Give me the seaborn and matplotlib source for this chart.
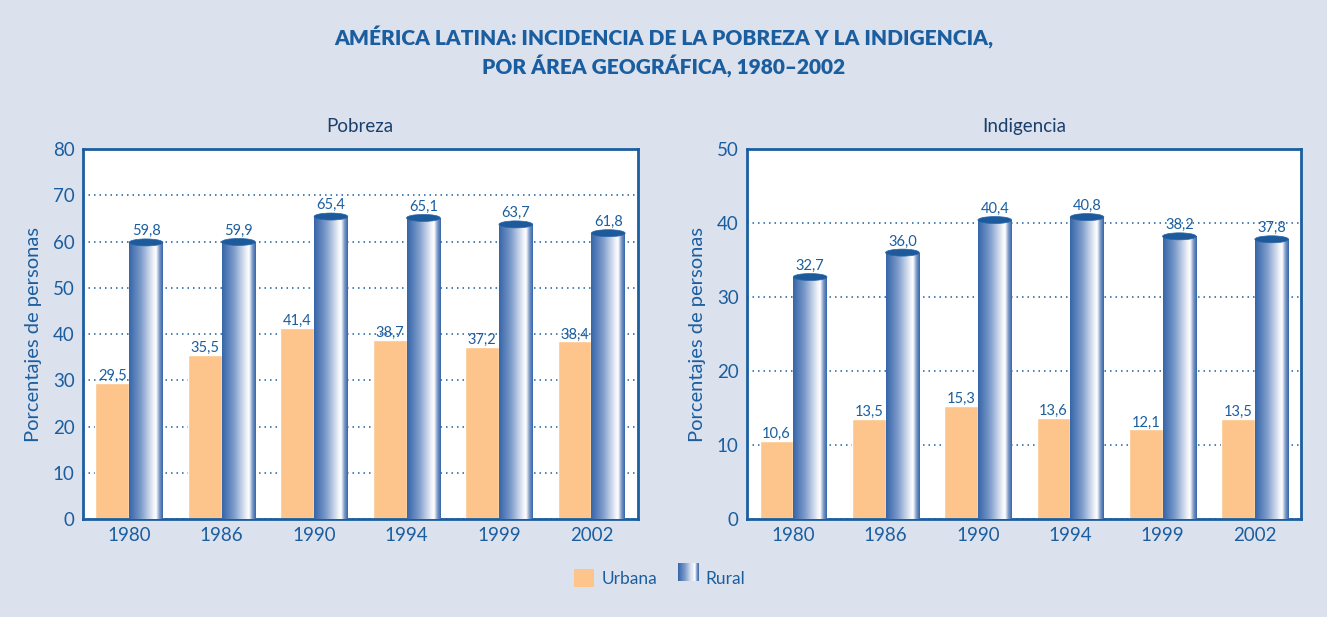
import numpy as np
import pandas as pd
import seaborn as sns
import matplotlib.pyplot as plt
from matplotlib.colors import LinearSegmentedColormap
from matplotlib.patches import Ellipse, Rectangle
from matplotlib.legend_handler import HandlerBase

years = ['1980', '1986', '1990', '1994', '1999', '2002']
pobreza_urbana = [29.5, 35.5, 41.4, 38.7, 37.2, 38.4]
pobreza_rural = [59.8, 59.9, 65.4, 65.1, 63.7, 61.8]
indigencia_urbana = [10.6, 13.5, 15.3, 13.6, 12.1, 13.5]
indigencia_rural = [32.7, 36.0, 40.4, 40.8, 38.2, 37.8]

BG = '#dce1ee'
BLUE = '#1b5e9f'
ORANGE = '#fdc58b'
cyl = LinearSegmentedColormap.from_list(
    'cyl', [(0, '#3565a8'), (0.35, '#7c9bca'), (0.72, '#eef1f8'), (0.8, '#ffffff'),
            (0.9, '#7d99c8'), (1, '#3565a8')])

sns.set_style('white')
plt.rcParams['font.family'] = ['Lato', 'DejaVu Sans']


def make_df(urb, rur):
    return pd.DataFrame({
        'year': years * 2,
        'value': urb + rur,
        'area': ['Urbana'] * len(years) + ['Rural'] * len(years),
    })


def draw_panel(ax, urb, rur, ymax, title):
    df = make_df(urb, rur)
    sns.barplot(data=df, x='year', y='value', hue='area', ax=ax, width=0.73,
                palette={'Urbana': ORANGE, 'Rural': '#3a6aad'}, saturation=1,
                legend=False, zorder=2)
    ax.set_axisbelow(True)
    ax.set_xlim(-0.5, len(years) - 0.5)
    ax.set_ylim(0, ymax)
    ax.set_yticks(np.arange(0, ymax + 1, 10))
    ax.yaxis.grid(True, color=BLUE, linestyle=(0, (1, 2.6)), linewidth=1.1)
    ax.xaxis.grid(False)
    for s in ax.spines.values():
        s.set_color(BLUE)
        s.set_linewidth(2)
        s.set_visible(True)
    ax.tick_params(axis='both', length=0, labelsize=13.5, labelcolor=BLUE, pad=6)
    ax.set_xticks(np.arange(0.5, len(years) - 1, 1), minor=True)
    ax.tick_params(axis='x', which='minor', direction='in', length=5, color=BLUE, width=1.2)
    ax.set_xlabel('')
    ax.set_ylabel('Porcentajes de personas', fontsize=14.5, color=BLUE, labelpad=8)
    ax.set_title(title, fontsize=13.5, color='#1a3f6a', pad=12)

    # pixel -> data scale for ellipse caps
    fig = ax.figure
    fig.canvas.draw()
    bbox = ax.get_window_extent()
    per_px = ymax / bbox.height

    urb_c, rur_c = ax.containers[0], ax.containers[1]
    for p in rur_c.patches:
        x0, w, h = p.get_x(), p.get_width(), p.get_height()
        p.set_facecolor('none')
        p.set_edgecolor('none')
        grad = np.linspace(0, 1, 200).reshape(1, -1)
        im = ax.imshow(grad, cmap=cyl, aspect='auto', extent=[x0, x0 + w, 0, h],
                       zorder=3, interpolation='bilinear')
        clip = Rectangle((x0, 0), w, h, transform=ax.transData)
        im.set_clip_path(clip)
        ax.add_patch(Ellipse((x0 + w / 2, h), w, 7 * per_px, facecolor='#1d5a9b',
                             edgecolor='#2a66a8', linewidth=0.5, zorder=4))
    ax.set_xlim(-0.5, len(years) - 0.5)
    ax.set_ylim(0, ymax)

    ax.bar_label(urb_c, labels=[f'{v:.1f}'.replace('.', ',') for v in urb],
                 padding=0, fontsize=10.5, color=BLUE, zorder=5)
    ax.bar_label(rur_c, labels=[f'{v:.1f}'.replace('.', ',') for v in rur],
                 padding=3, fontsize=10.5, color=BLUE, zorder=5)


class GradHandler(HandlerBase):
    def create_artists(self, legend, orig, xd, yd, width, height, fontsize, trans):
        n = 20
        arts = []
        for i in range(n):
            r = Rectangle((xd + width * i / n, yd), width / n + 0.3, height,
                          facecolor=cyl((i + 0.5) / n), edgecolor='none', transform=trans)
            arts.append(r)
        return arts


fig = plt.figure(figsize=(13.27, 6.17), dpi=100, facecolor=BG)
ax1 = fig.add_axes([0.0625, 0.1588, 0.418, 0.5997])
ax2 = fig.add_axes([0.563, 0.1588, 0.4174, 0.5997])
for a in (ax1, ax2):
    a.set_facecolor('white')

draw_panel(ax1, pobreza_urbana, pobreza_rural, 80, 'Pobreza')
draw_panel(ax2, indigencia_urbana, indigencia_rural, 50, 'Indigencia')

fig.text(0.5, 0.94, 'AMÉRICA LATINA: INCIDENCIA DE LA POBREZA Y LA INDIGENCIA,',
         ha='center', va='center', fontsize=15, fontweight='heavy', color=BLUE)
fig.text(0.5, 0.893, 'POR ÁREA GEOGRÁFICA, 1980–2002',
         ha='center', va='center', fontsize=15, fontweight='heavy', color=BLUE)

h_urb = Rectangle((0, 0), 1, 1, facecolor=ORANGE, edgecolor='none')
h_rur = Rectangle((0, 0), 1, 1, facecolor='#3565a8', edgecolor='none')
leg = fig.legend([h_urb, h_rur], ['Urbana', 'Rural'], loc='center',
                 bbox_to_anchor=(0.497, 0.063), ncol=2, frameon=False,
                 fontsize=12.5, handlelength=1.2, handleheight=1.2,
                 handletextpad=0.4, columnspacing=1.2,
                 handler_map={h_rur: GradHandler()})
for t in leg.get_texts():
    t.set_color(BLUE)

fig.savefig('out.png', dpi=100, facecolor=BG)
